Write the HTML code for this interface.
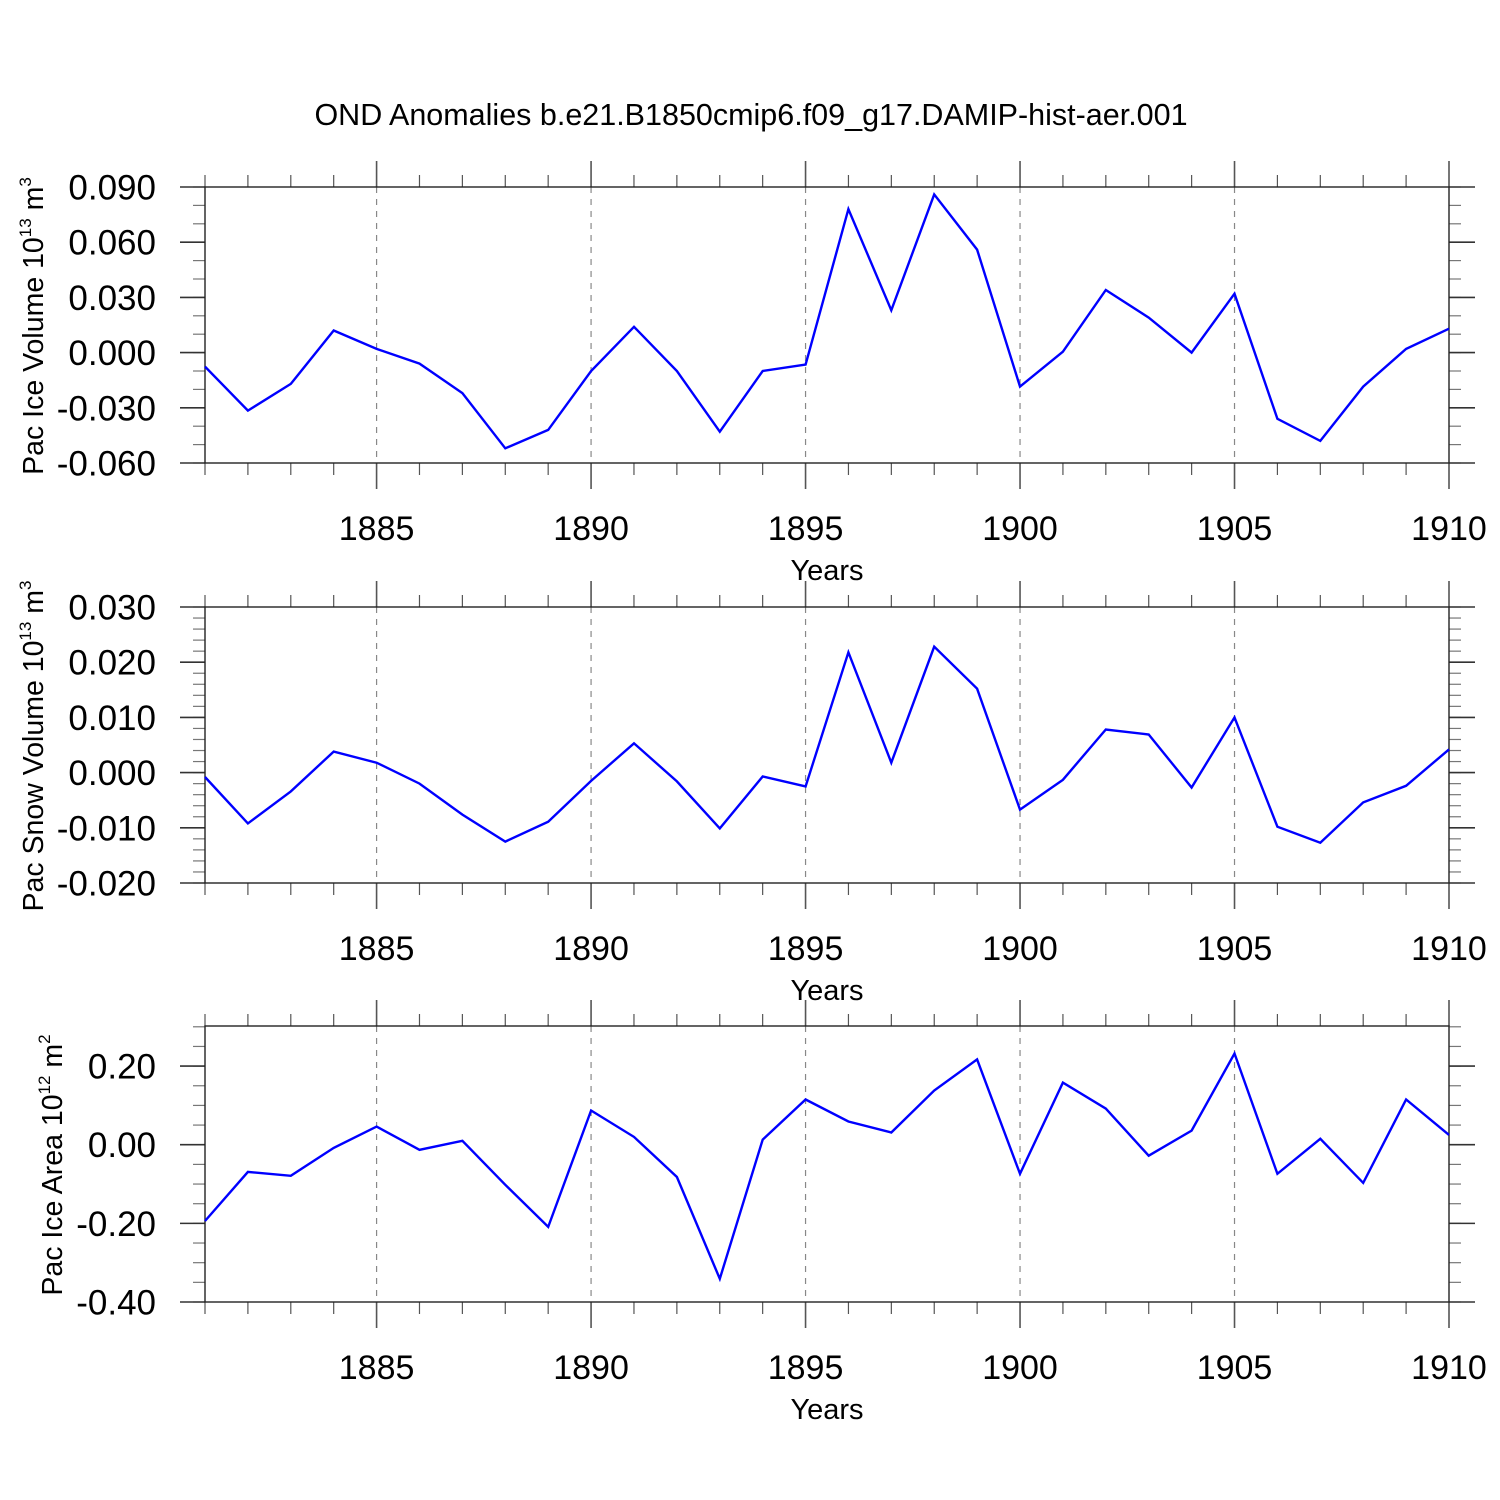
<!DOCTYPE html>
<html><head><meta charset="utf-8"><style>
html,body{margin:0;padding:0;background:#fff}
svg{display:block;font-family:"Liberation Sans",Arial,sans-serif}
</style></head><body>
<svg id="chart" width="1500" height="1500" viewBox="0 0 1500 1500" xmlns="http://www.w3.org/2000/svg">
<rect width="1500" height="1500" fill="#fff"/>
<text x="751" y="125" font-size="30.5" text-anchor="middle">OND Anomalies b.e21.B1850cmip6.f09_g17.DAMIP-hist-aer.001</text>
</svg>
<script>
const years = [1881,1882,1883,1884,1885,1886,1887,1888,1889,1890,1891,1892,1893,1894,1895,1896,1897,1898,1899,1900,1901,1902,1903,1904,1905,1906,1907,1908,1909,1910];
const iceVolume = [-0.0076,-0.0315,-0.017,0.012,0.002,-0.006,-0.022,-0.052,-0.042,-0.010,0.014,-0.010,-0.043,-0.010,-0.0065,0.078,0.023,0.086,0.056,-0.0185,0.0005,0.034,0.019,0.000,0.032,-0.036,-0.048,-0.0185,0.002,0.013];
const snowVolume = [-0.0008,-0.0092,-0.0034,0.0038,0.0018,-0.002,-0.0076,-0.0125,-0.0089,-0.0015,0.0053,-0.0016,-0.0101,-0.0007,-0.0025,0.0218,0.0018,0.0228,0.0152,-0.0067,-0.0013,0.0078,0.0069,-0.0027,0.0100,-0.0098,-0.0127,-0.0054,-0.0024,0.0042];
const iceArea = [-0.194,-0.069,-0.079,-0.008,0.046,-0.013,0.010,-0.102,-0.209,0.087,0.020,-0.082,-0.341,0.013,0.115,0.059,0.031,0.138,0.217,-0.074,0.158,0.092,-0.028,0.036,0.232,-0.074,0.015,-0.097,0.115,0.025];
const xTickLabels = [1885,1890,1895,1900,1905,1910];
const iceVolumeTicks = ["-0.060","-0.030","0.000","0.030","0.060","0.090"];
const snowVolumeTicks = ["-0.020","-0.010","0.000","0.010","0.020","0.030"];
const iceAreaTicks = ["-0.40","-0.20","0.00","0.20"];

const NS="http://www.w3.org/2000/svg";
const svg=document.getElementById('chart');
function mk(tag,attrs,parent){const e=document.createElementNS(NS,tag);for(const k in attrs)e.setAttribute(k,attrs[k]);(parent||svg).appendChild(e);return e;}

const X0=205,X1=1449,H=276;
function xs(yr){return X0+(yr-1881)/(1910-1881)*(X1-X0);}

const panels=[
 {name:'ice-volume',top:187,ymin:-0.06,ymax:0.09,data:iceVolume,ticks:iceVolumeTicks,minor:0.01,titleX:43,title:'Pac Ice Volume 10',exp:'13',unit:' m',uexp:'3'},
 {name:'snow-volume',top:607,ymin:-0.02,ymax:0.03,data:snowVolume,ticks:snowVolumeTicks,minor:0.002,titleX:43,title:'Pac Snow Volume 10',exp:'13',unit:' m',uexp:'3'},
 {name:'ice-area',top:1026,ymin:-0.40,ymax:0.302,data:iceArea,ticks:iceAreaTicks,minor:0.05,titleX:62,title:'Pac Ice Area 10',exp:'12',unit:' m',uexp:'2'}
];

panels.forEach(p=>{
 const g=mk('g',{});
 
 
 const bot=p.top+H;
 const ys=v=>bot-(v-p.ymin)/(p.ymax-p.ymin)*H;
 xTickLabels.forEach(yr=>{
  if(yr===1910)return;
  const l=mk('line',{x1:xs(yr),x2:xs(yr),y1:p.top,y2:bot,stroke:'#888','stroke-width':1.2,'stroke-dasharray':'6,6'},g);
  
  
 });
 years.forEach(yr=>{
  const major=xTickLabels.includes(yr);
  const len=major?26:12;
  mk('line',{x1:xs(yr),x2:xs(yr),y1:p.top-len,y2:p.top,stroke:'#555','stroke-width':major?1.6:1.2},g);
  mk('line',{x1:xs(yr),x2:xs(yr),y1:bot,y2:bot+len,stroke:'#555','stroke-width':major?1.6:1.2},g);
 });
 const n=Math.round((p.ymax-p.ymin)/p.minor);
 for(let i=0;i<=n;i++){
  const v=p.ymin+i*p.minor; if(v>p.ymax+1e-9)continue;
  const y=ys(v);
  mk('line',{x1:X0-12,x2:X0,y1:y,y2:y,stroke:'#777','stroke-width':1.2},g);
  mk('line',{x1:X1,x2:X1+12,y1:y,y2:y,stroke:'#777','stroke-width':1.2},g);
 }
 p.ticks.forEach(t=>{
  const y=ys(parseFloat(t));
  mk('line',{x1:X0-25,x2:X0,y1:y,y2:y,stroke:'#333','stroke-width':1.6},g);
  mk('line',{x1:X1,x2:X1+26,y1:y,y2:y,stroke:'#333','stroke-width':1.6},g);
  const tx=mk('text',{x:156,y:y+12.5,'font-size':35,'text-anchor':'end'},g);
  
  
  tx.textContent=t;
 });
 const fr=mk('rect',{x:X0,y:p.top,width:X1-X0,height:H,fill:'none',stroke:'#222','stroke-width':1.4},g);
 
 
 xTickLabels.forEach(yr=>{
  const tx=mk('text',{x:xs(yr),y:bot+77,'font-size':34,'text-anchor':'middle'},g);
  
  
  tx.textContent=yr;
 });
 const xt=mk('text',{x:827,y:bot+117,'font-size':29,'text-anchor':'middle'},g);
 
 
 xt.textContent='Years';
 const cy=p.top+139;
 const yt=mk('text',{x:0,y:0,'font-size':28.5,'text-anchor':'middle',transform:`translate(${p.titleX},${cy}) rotate(-90)`},g);
 
 
 yt.appendChild(document.createTextNode(p.title));
 const s1=mk('tspan',{'font-size':17,dy:-12},yt); s1.textContent=p.exp;
 const s2=mk('tspan',{dy:12},yt); s2.textContent=p.unit;
 const s3=mk('tspan',{'font-size':17,dy:-12},yt); s3.textContent=p.uexp;
 const pts=years.map((yr,i)=>xs(yr).toFixed(1)+','+ys(p.data[i]).toFixed(1)).join(' ');
 const pl=mk('polyline',{points:pts,fill:'none',stroke:'#0000ff','stroke-width':2.4,'stroke-linejoin':'miter'},g);
 
 
});
</script>
</body></html>
